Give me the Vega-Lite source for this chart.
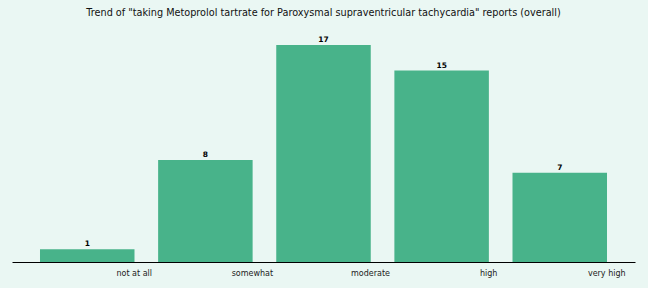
{
  "$schema": "https://vega.github.io/schema/vega-lite/v6.json",
  "autosize": "none",
  "width": 623,
  "height": 217,
  "padding": {"left": 12, "top": 45, "right": 13, "bottom": 26},
  "background": "#eaf7f3",
  "config": {"view": {"stroke": null}, "font": "DejaVu Sans"},
  "title": {"text": "Trend of \"taking Metoprolol tartrate for Paroxysmal supraventricular tachycardia\" reports (overall)", "fontSize": 9.7, "fontWeight": "normal", "color": "#111111", "offset": 18, "font": "DejaVu Sans"},
  "data": {"values": [
    {"level": "not at all", "count": 1},
    {"level": "somewhat", "count": 8},
    {"level": "moderate", "count": 17},
    {"level": "high", "count": 15},
    {"level": "very high", "count": 7}
  ]},
  "encoding": {
    "x": {"field": "level", "type": "nominal", "sort": null,
      "scale": {"paddingInner": 0.2, "paddingOuter": 0.237},
      "axis": {"title": null, "labelAngle": 0, "ticks": false, "labelOffset": 47, "labelFontSize": 8, "labelColor": "#222222", "labelPadding": 7, "domainColor": "#000000", "domainWidth": 1}},
    "y": {"field": "count", "type": "quantitative", "scale": {"domain": [0, 17], "nice": false}, "axis": null}
  },
  "layer": [
    {"mark": {"type": "bar", "color": "#48b38a"}},
    {"mark": {"type": "text", "dy": -5, "fontSize": 7.5, "fontWeight": "bold", "color": "#000000"}, "encoding": {"text": {"field": "count"}}}
  ]
}
